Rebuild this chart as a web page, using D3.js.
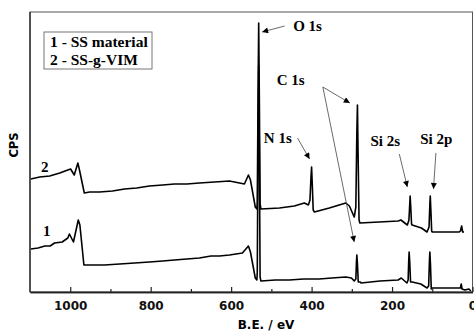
<!DOCTYPE html>
<html>
<head>
<meta charset="utf-8">
<script src="https://cdn.jsdelivr.net/npm/d3@7"></script>
<style>
  body { margin: 0; background: #fff; }
  svg { display: block; }
</style>
</head>
<body>
<svg id="chart" width="474" height="332"></svg>
<script>
// binding energy (eV) / intensity (a.u.)
const ss_energy = [1098, 1080, 1063, 1050, 1039, 1020, 1006, 1002, 992, 980, 976, 966, 952, 915, 877, 840, 803, 770, 741, 710, 679, 650, 629, 604, 572, 557, 552, 540, 536,
  535, 533, 531.5, 530, 528, 526, 490, 455, 420, 381, 350, 315, 301, 294, 290, 288.5, 287.5, 286, 284, 279, 277, 230, 185, 177, 163,
  160, 158.5, 157.5, 156, 154, 150, 128.5, 113, 109, 107, 106, 104.5, 102.5, 100.5, 71, 33, 30, 28, 26, 19, 9, 4];
const ss_counts = [43, 44, 46, 46, 49, 50, 54, 58, 50, 72, 67, 27, 27, 27, 28, 29, 30, 31, 32, 33, 34, 36, 36, 37, 39, 46, 40, 14, 12,
  20, 160, 227, 150, 15, 11, 12, 12, 13, 13, 14, 15, 14, 11, 13, 30, 37, 28, 10, 10, 9, 11, 12, 14, 9,
  12, 32, 40, 30, 10, 10, 8, 4, 6, 32, 40, 28, 3, 4, 4, 4, 4, 8, 3, 2, 3, 1];

const vim_energy = [1098, 1076, 1051, 1026, 1006, 999, 990, 981, 977, 965, 952, 927, 895, 865, 835, 803, 770, 741, 710, 679, 641, 604, 567, 557, 552, 540, 536,
  535, 533, 531.5, 530, 528, 526, 480, 443, 418, 408, 404, 401.5, 400, 398.5, 396, 393, 356, 315, 306, 294,
  290, 287.5, 286, 284.5, 282, 280, 232, 185, 178, 162, 158, 156, 155, 153.5, 151.5, 150, 127, 113,
  108, 106, 105, 103.5, 101.5, 100, 71, 33, 30, 27, 24.5, 21];
const vim_counts = [113, 115, 116, 119, 122, 123, 117, 129, 122, 99, 100, 100, 101, 103, 104, 106, 107, 108, 108, 109, 110, 111, 108, 117, 112, 85, 83,
  90, 200, 269, 200, 88, 83, 84, 86, 89, 87, 92, 115, 125, 110, 82, 80, 84, 89, 86, 75,
  85, 160, 187, 140, 72, 69, 70, 71, 72, 67, 72, 88, 96, 85, 68, 67, 64, 60,
  65, 88, 96, 82, 61, 60, 60, 60, 61, 66, 60, 60];

const majorTicks = [1000, 800, 600, 400, 200, 0];
const minorTicks = [900, 700, 500, 300, 100];
const legendLines = ["1 - SS material", "2 - SS-g-VIM"];

// peak labels and arrow (energy, counts) endpoints
const peakLabels = [
  { text: "O 1s", e: 410, c: 261 },
  { text: "C 1s", e: 452, c: 207 },
  { text: "N 1s", e: 484, c: 149 },
  { text: "Si 2s", e: 217, c: 146 },
  { text: "Si 2p", e: 90, c: 148 }
];
const arrows = [
  { from: [467, 266], to: [523, 260] },
  { from: [372, 205], to: [305, 189] },
  { from: [372, 205], to: [294, 50] },
  { from: [435, 154], to: [405, 133] },
  { from: [182, 138], to: [162, 105] },
  { from: [91, 139], to: [97, 103] }
];

const svg = d3.select("#chart");
const x = d3.scaleLinear().domain([1100, 0]).range([30, 472.5]);
const y = d3.scaleLinear().domain([0, 280]).range([292, 12]);

const serif = "'Liberation Serif', 'Times New Roman', serif";
const sans = "'DejaVu Sans', Verdana, sans-serif";

// frame
svg.append("rect")
  .attr("x", 30).attr("y", 12)
  .attr("width", 442.5).attr("height", 280)
  .attr("fill", "none").attr("stroke", "#555").attr("stroke-width", 1);

// spectra
const line = d3.line().x(d => x(d[0])).y(d => y(d[1]));
const series = [
  d3.zip(ss_energy, ss_counts),
  d3.zip(vim_energy, vim_counts)
];
svg.append("g")
  .selectAll("path")
  .data(series)
  .join("path")
  .attr("d", line)
  .attr("fill", "none")
  .attr("stroke", "#000")
  .attr("stroke-width", 1.6)
  .attr("stroke-linejoin", "round");

// axes
const gx = svg.append("g").attr("transform", "translate(0,292)");
gx.call(d3.axisBottom(x).tickValues(majorTicks).tickFormat(d3.format("d"))
  .tickSizeInner(-5).tickSizeOuter(0).tickPadding(9));
gx.append("g").call(d3.axisBottom(x).tickValues(minorTicks).tickSizeInner(-3).tickSizeOuter(0).tickFormat(""));
gx.selectAll(".domain").attr("stroke", "#222").attr("stroke-width", 1.3);
gx.selectAll(".tick line").attr("stroke", "#222").attr("stroke-width", 1.2);
gx.selectAll(".tick text")
  .attr("font-family", sans).attr("font-weight", "bold")
  .attr("font-size", 12).attr("fill", "#111");

svg.append("line")
  .attr("x1", 30).attr("x2", 30).attr("y1", 12).attr("y2", 292)
  .attr("stroke", "#222").attr("stroke-width", 1.3);

svg.append("text")
  .attr("x", 266).attr("y", 329)
  .attr("text-anchor", "middle")
  .attr("font-family", sans).attr("font-weight", "bold").attr("font-size", 12)
  .text("B.E. / eV");

svg.append("text")
  .attr("transform", "translate(18,145) rotate(-90)")
  .attr("text-anchor", "middle")
  .attr("font-family", sans).attr("font-weight", "bold").attr("font-size", 11.5)
  .text("CPS");

// legend
svg.append("rect")
  .attr("x", 44).attr("y", 32).attr("width", 108).attr("height", 37)
  .attr("fill", "#fff").attr("stroke", "#777").attr("stroke-width", 1);
svg.append("g")
  .selectAll("text")
  .data(legendLines)
  .join("text")
  .attr("x", 50).attr("y", (d, i) => 46.5 + i * 18)
  .attr("font-family", serif).attr("font-weight", "bold").attr("font-size", 15.5)
  .text(d => d);

// curve numbers
svg.append("text").attr("x", 41).attr("y", 172)
  .attr("font-family", serif).attr("font-weight", "bold").attr("font-size", 15).text("2");
svg.append("text").attr("x", 43).attr("y", 236)
  .attr("font-family", serif).attr("font-weight", "bold").attr("font-size", 15).text("1");

// arrows
svg.append("defs").append("marker")
  .attr("id", "head")
  .attr("viewBox", "0 0 10 10")
  .attr("refX", 10).attr("refY", 5)
  .attr("markerUnits", "userSpaceOnUse")
  .attr("markerWidth", 7).attr("markerHeight", 6)
  .attr("orient", "auto")
  .append("path").attr("d", "M0,0L10,5L0,10Z").attr("fill", "#000");

svg.append("g")
  .selectAll("line")
  .data(arrows)
  .join("line")
  .attr("x1", d => x(d.from[0])).attr("y1", d => y(d.from[1]))
  .attr("x2", d => x(d.to[0])).attr("y2", d => y(d.to[1]))
  .attr("stroke", "#444").attr("stroke-width", 0.8)
  .attr("marker-end", "url(#head)");

svg.append("g")
  .selectAll("text")
  .data(peakLabels)
  .join("text")
  .attr("x", d => x(d.e)).attr("y", d => y(d.c))
  .attr("text-anchor", "middle")
  .attr("font-family", serif).attr("font-weight", "bold").attr("font-size", 15)
  .text(d => d.text);
</script>
</body>
</html>
